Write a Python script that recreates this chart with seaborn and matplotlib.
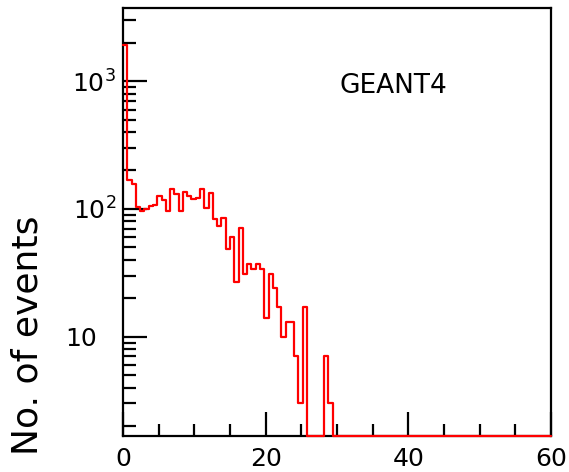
import numpy as np
import pandas as pd
import matplotlib
matplotlib.use('Agg')
import matplotlib.pyplot as plt
from matplotlib.ticker import FixedLocator, FixedFormatter, LogLocator, NullFormatter
from matplotlib.transforms import ScaledTranslation
import seaborn as sns

# histogram binning: 100 bins of 0.6 between 0 and 60
X_MIN, X_MAX, N_BINS = 0, 60, 100

# counts per bin
COUNTS = [1915, 170, 158, 103, 96, 100, 105, 108, 126, 117,
          96, 142, 132, 97, 135, 126, 119, 122, 142, 102,
          134, 84, 74, 85, 49, 60, 27, 71, 31, 37,
          34, 37, 34, 14, 31, 24, 17, 10, 13, 13,
          7, 3, 17, 0, 0, 0, 0, 7, 3, 0,
          0, 0, 0, 0, 0, 0, 0, 0, 0, 0,
          0, 0, 0, 0, 0, 0, 0, 0, 0, 0,
          0, 0, 0, 0, 0, 0, 0, 0, 0, 0,
          0, 0, 0, 0, 0, 0, 0, 0, 0, 0,
          0, 0, 0, 0, 0, 0, 0, 0, 0, 0]

X_TICKS = [0, 20, 40, 60]
Y_TICKS = [10, 100, 1000]
Y_TICK_LABELS = ['10', '10$^{2}$', '10$^{3}$']
Y_LIM = (1.67, 3740)
Y_LABEL = 'No. of events'
TAG = 'GEANT4'

sns.set_theme(style='white')
plt.rcParams['font.family'] = ['DejaVu Sans']
plt.rcParams['mathtext.default'] = 'regular'
plt.rcParams['text.color'] = 'black'

width = (X_MAX - X_MIN) / N_BINS
df = pd.DataFrame({
    'x': X_MIN + width * (np.arange(N_BINS) + 0.5),
    # empty bins are drawn on the lower frame, like the original
    'n': np.maximum(np.array(COUNTS, dtype=float), Y_LIM[0]),
})

fig = plt.figure(figsize=(5.69, 4.72), dpi=100)
ax = fig.add_axes([0.2162, 0.0763, 0.7522, 0.9067])

sns.histplot(data=df, x='x', weights='n', binwidth=width, binrange=(X_MIN, X_MAX),
             element='step', fill=False, color='red', linewidth=1.6, ax=ax)
line = ax.lines[-1]
line.set_zorder(3)
line.set_clip_on(False)

ax.set_yscale('log')
ax.set_xlim(X_MIN, X_MAX)
ax.set_ylim(*Y_LIM)

ax.xaxis.set_major_locator(FixedLocator(X_TICKS))
ax.xaxis.set_minor_locator(FixedLocator(np.arange(0, 61, 5)))
ax.yaxis.set_major_locator(FixedLocator(Y_TICKS))
ax.yaxis.set_major_formatter(FixedFormatter(Y_TICK_LABELS))
ax.yaxis.set_minor_locator(LogLocator(base=10, subs=np.arange(2, 10)))
ax.yaxis.set_minor_formatter(NullFormatter())

ax.tick_params(which='both', direction='in', width=1.6, colors='black',
               bottom=True, left=True, top=False, right=False, labelsize=18)
ax.tick_params(which='major', length=17)
ax.tick_params(which='minor', length=9)
ax.tick_params(axis='x', which='major', pad=8)
ax.tick_params(axis='y', which='major', pad=5)

# plain "10" sits where the base of 10^2 / 10^3 sits (no superscript room)
lab = ax.yaxis.get_major_ticks()[0].label1
lab.set_transform(lab.get_transform() + ScaledTranslation(-0.19, 0, fig.dpi_scale_trans))

for side in ['top', 'right', 'bottom', 'left']:
    ax.spines[side].set_visible(True)
    ax.spines[side].set_color('black')
    ax.spines[side].set_linewidth(1.6)

ax.set_xlabel('')
ax.set_ylabel('')
ax.text(-0.223, -0.044, Y_LABEL, rotation=90, ha='center', va='bottom',
        fontsize=26, transform=ax.transAxes)
ax.text(0.505, 0.801, TAG, ha='left', va='baseline', fontsize=19,
        transform=ax.transAxes)

fig.savefig('out.png', dpi=100)
